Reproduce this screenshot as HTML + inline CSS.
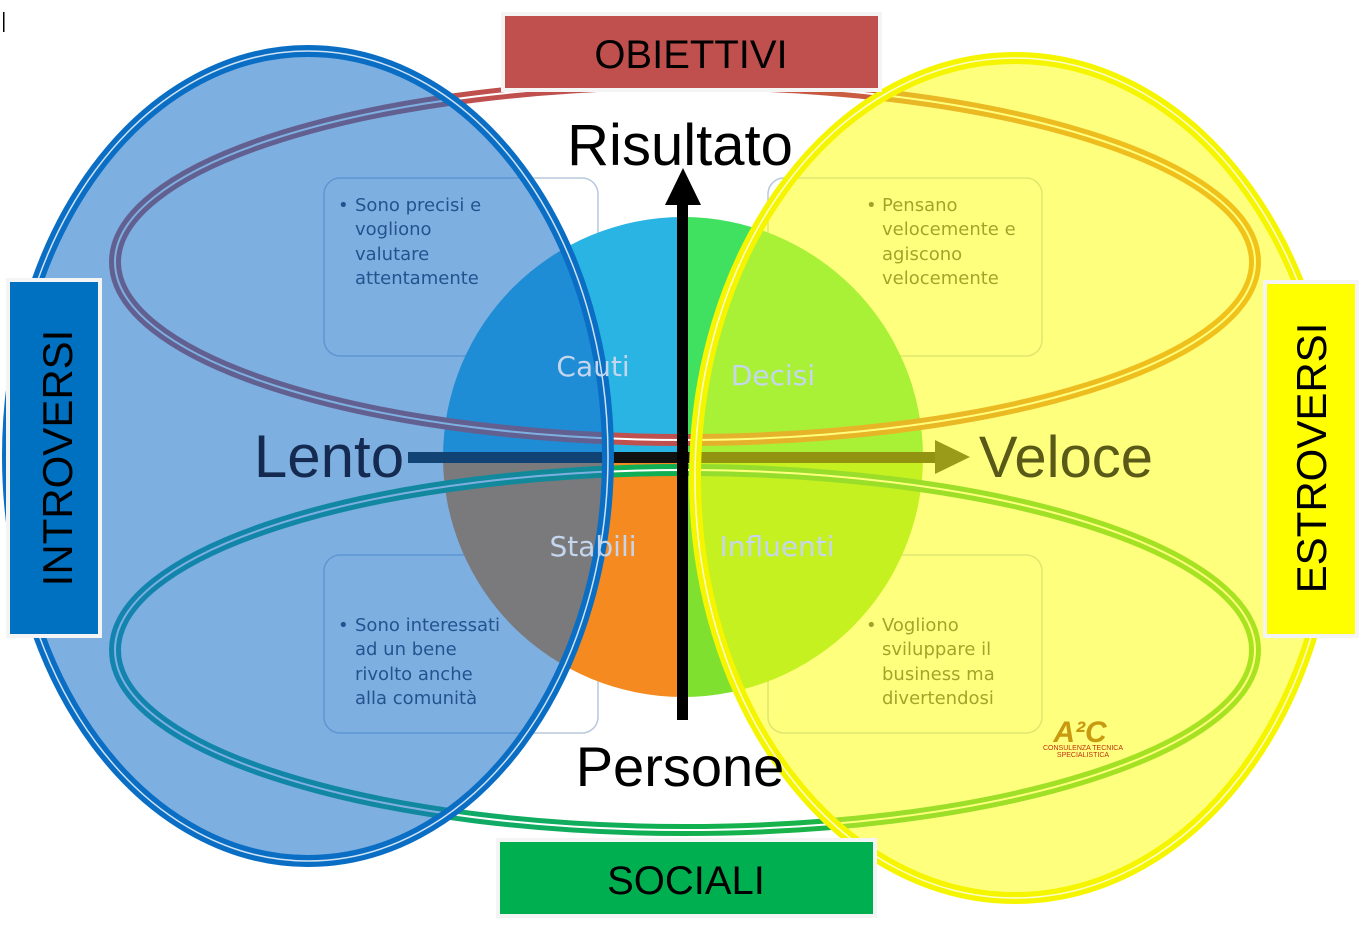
<!DOCTYPE html>
<html><head><meta charset="utf-8"><style>
html,body{margin:0;padding:0;background:#fff;}
svg{display:block;font-family:"Liberation Sans",sans-serif;}
</style></head><body>
<svg width="1367" height="931" viewBox="0 0 1367 931" xmlns="http://www.w3.org/2000/svg">
<defs>
<linearGradient id="gTop" x1="0" x2="1" y1="0" y2="0">
<stop offset="0" stop-color="#c0504d"/><stop offset="0.5" stop-color="#c0504d"/><stop offset="1" stop-color="#e07a20"/></linearGradient>
<linearGradient id="gBot" x1="0" x2="1" y1="0" y2="0">
<stop offset="0" stop-color="#10a090"/><stop offset="0.5" stop-color="#10b050"/><stop offset="1" stop-color="#40c030"/></linearGradient>
</defs>
<rect width="1367" height="931" fill="#fff"/>
<rect x="3" y="12" width="1.5" height="20" fill="#000"/>
<!-- text boxes -->
<g fill="none" stroke="#b8c8dc" stroke-width="1.5">
<rect x="324" y="178" width="274" height="178" rx="16"/>
<rect x="768" y="178" width="274" height="178" rx="16"/>
<rect x="324" y="555" width="274" height="178" rx="16"/>
<rect x="768" y="555" width="274" height="178" rx="16"/>
</g>
<!-- pie -->
<path d="M683,457 L683,217 A240,240 0 0 0 443,457 Z" fill="#2ab4e4"/>
<path d="M683,457 L683,217 A240,240 0 0 1 923,457 Z" fill="#40e060"/>
<path d="M683,457 L443,457 A240,240 0 0 0 683,697 Z" fill="#f58a20"/>
<path d="M683,457 L923,457 A240,240 0 0 1 683,697 Z" fill="#80e030"/>
<!-- horizontal ellipses -->
<ellipse cx="685" cy="262" rx="570" ry="178" fill="none" stroke="url(#gTop)" stroke-width="12"/>
<ellipse cx="685" cy="262" rx="570" ry="178" fill="none" stroke="#fff" stroke-width="2"/>
<ellipse cx="685" cy="650" rx="570" ry="180" fill="none" stroke="url(#gBot)" stroke-width="12"/>
<ellipse cx="685" cy="650" rx="570" ry="180" fill="none" stroke="#fff" stroke-width="2"/>
<!-- horizontal arrow -->
<rect x="408" y="452" width="530" height="11" fill="#111"/>
<polygon points="935,440 970,457 935,474" fill="#222"/>
<!-- bullet texts -->
<g font-family="'DejaVu Sans','Liberation Sans',sans-serif" font-size="18" fill="#33334a">
<text x="338" y="211">•</text><text x="355" y="211">Sono precisi e</text><text x="355" y="235">vogliono</text><text x="355" y="260">valutare</text><text x="355" y="284">attentamente</text>
<text x="866" y="211">•</text><text x="882" y="211">Pensano</text><text x="882" y="235">velocemente e</text><text x="882" y="260">agiscono</text><text x="882" y="284">velocemente</text>
<text x="338" y="631">•</text><text x="355" y="631">Sono interessati</text><text x="355" y="655">ad un bene</text><text x="355" y="680">rivolto anche</text><text x="355" y="704">alla comunità</text>
<text x="866" y="631">•</text><text x="882" y="631">Vogliono</text><text x="882" y="655">sviluppare il</text><text x="882" y="680">business ma</text><text x="882" y="704">divertendosi</text>
</g>
<!-- blue ellipse -->
<ellipse cx="308" cy="456" rx="300" ry="405" fill="rgba(20,110,200,0.55)" stroke="#0a6ec4" stroke-width="12"/>
<ellipse cx="308" cy="456" rx="300" ry="405" fill="none" stroke="#fff" stroke-width="1.5" opacity="0.8"/>
<!-- yellow ellipse -->
<ellipse cx="1015" cy="478" rx="320" ry="420" fill="rgba(255,255,20,0.55)" stroke="#f5f500" stroke-width="12"/>
<ellipse cx="1015" cy="478" rx="320" ry="420" fill="none" stroke="#fff" stroke-width="1.5" opacity="0.8"/>
<!-- vertical arrow -->
<rect x="677" y="200" width="11" height="520" fill="#000"/>
<polygon points="665,205 683,168 701,205" fill="#000"/>
<!-- quadrant labels -->
<g font-family="'DejaVu Sans','Liberation Sans',sans-serif" font-size="28" fill="#c4d6ee" text-anchor="middle">
<text x="593" y="376">Cauti</text>
<text x="773" y="385">Decisi</text>
<text x="593" y="556">Stabili</text>
<text x="777" y="556">Influenti</text>
</g>
<!-- axis labels -->
<text x="680" y="165" font-size="58" text-anchor="middle" fill="#000">Risultato</text>
<text x="680" y="786" font-size="56" text-anchor="middle" fill="#000">Persone</text>
<text x="329" y="477" font-size="60" text-anchor="middle" fill="#152a50">Lento</text>
<text x="1066" y="477" font-size="58" text-anchor="middle" fill="#5a5a18">Veloce</text>
<!-- logo -->
<text x="1080" y="742" font-size="30" font-weight="bold" fill="#c89a10" text-anchor="middle" font-style="italic">A²C</text>
<text x="1083" y="750" font-size="7" fill="#c03010" text-anchor="middle">CONSULENZA TECNICA</text>
<text x="1083" y="757" font-size="7" fill="#c03010" text-anchor="middle">SPECIALISTICA</text>
<!-- header boxes -->
<rect x="503" y="14" width="377" height="76" fill="#c0504d" stroke="#f4f4f4" stroke-width="4"/>
<text x="691" y="68" font-size="40" text-anchor="middle" fill="#000">OBIETTIVI</text>
<rect x="498" y="840" width="377" height="76" fill="#00b050" stroke="#f4f4f4" stroke-width="4"/>
<text x="686" y="894" font-size="40" text-anchor="middle" fill="#000">SOCIALI</text>
<rect x="8" y="280" width="92" height="356" fill="#0070c0" stroke="#f4f4f4" stroke-width="4"/>
<text transform="translate(72,458) rotate(-90)" font-size="42" text-anchor="middle" fill="#000">INTROVERSI</text>
<rect x="1265" y="282" width="92" height="354" fill="#ffff00" stroke="#f4f4f4" stroke-width="4"/>
<text transform="translate(1326,458) rotate(-90)" font-size="42" text-anchor="middle" fill="#000">ESTROVERSI</text>
</svg>
</body></html>
